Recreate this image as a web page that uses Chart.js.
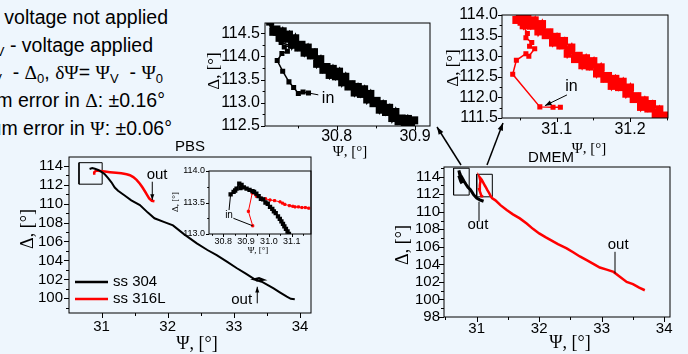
<!DOCTYPE html>
<html>
<head>
<meta charset="utf-8">
<script src="https://cdn.jsdelivr.net/npm/chart.js@4.4.1/dist/chart.umd.min.js"></script>
<style>
  body { margin: 0; width: 688px; height: 354px; overflow: hidden; position: relative;
         background: #eef6fd; font-family: "Liberation Sans", Arial, sans-serif; }
  canvas { position: absolute; left: 0; top: 0; }
  .note { position: absolute; white-space: nowrap; font-size: 19.5px; line-height: 1; color: #000; }
  .g { font-family: "Liberation Serif", serif; }
  .s { font-size: 13px; position: relative; top: 4px; }
</style>
</head>
<body>
<div class="note" style="right:520px;top:8px"><span class="g">Δ</span><span class="s">0</span>, <span class="g">Ψ</span><span class="s">0</span> - voltage not applied</div>
<div class="note" style="right:535px;top:36px"><span class="g">Δ</span><span class="s">V</span>, <span class="g">Ψ</span><span class="s">V</span> - voltage applied</div>
<div class="note" style="right:525px;top:63px"><span class="g">δΔ</span>= <span class="g">Δ</span><span class="s">V</span> &nbsp;- <span class="g">Δ</span><span class="s">0</span>, <span class="g">δΨ</span>= <span class="g">Ψ</span><span class="s">V</span>&nbsp; - <span class="g">Ψ</span><span class="s">0</span></div>
<div class="note" style="right:523px;top:91px">Maximum error in <span class="g">Δ</span>: ±0.16°</div>
<div class="note" style="right:516px;top:119px">Maximum error in <span class="g">Ψ</span>: ±0.06°</div>

<canvas id="pbsMain" width="688" height="354"></canvas>
<canvas id="pbsInset" width="688" height="354"></canvas>
<canvas id="dmemMain" width="688" height="354"></canvas>
<canvas id="dmemZoom304" width="688" height="354"></canvas>
<canvas id="dmemZoom316" width="688" height="354"></canvas>
<canvas id="links" width="688" height="354"></canvas>

<script>
// ---- data: [Psi, Delta] in degrees ----
// PBS, full run
const pbs304 = [[30.82,113.65],[30.86,113.75],[30.90,113.68],[30.95,113.55],[31.00,113.35],[31.05,113.10],
  [31.10,112.70],[31.15,112.25],[31.20,111.70],[31.25,111.35],[31.35,110.85],[31.45,110.35],[31.58,109.85],
  [31.70,109.05],[31.80,108.45],[31.95,108.05],[32.08,107.70],[32.25,106.75],[32.44,105.80],[32.60,105.10],
  [32.74,104.55],[32.90,103.85],[33.04,103.20],[33.18,102.60],[33.28,102.15],[33.35,101.85],[33.45,101.95],
  [33.38,102.15],[33.30,102.00],[33.42,101.75],[33.50,101.45],[33.60,101.05],[33.70,100.60],[33.80,100.17],
  [33.86,99.95],[33.92,99.90]];
const pbs316 = [[30.89,113.05],[30.89,113.30],[30.92,113.50],[30.98,113.44],[31.05,113.38],[31.13,113.32],
  [31.22,113.26],[31.30,113.20],[31.38,113.10],[31.43,113.00],[31.48,112.80],[31.53,112.50],[31.58,112.10],
  [31.62,111.70],[31.66,111.25],[31.69,110.90],[31.72,110.55],[31.76,110.30],[31.80,110.25]];
const pbsBox = [[30.66,112.05],[31.01,112.05],[31.01,114.32],[30.66,114.32],[30.66,112.05]];

// PBS, first minutes (inset)
const pbsStart304 = [[30.832,113.63],[30.845,113.67],[30.852,113.69],[30.858,113.72],[30.870,113.80],[30.880,113.78],
  [30.875,113.73],[30.890,113.74],[30.902,113.72],[30.915,113.70],[30.928,113.68],[30.935,113.67],[30.945,113.64],
  [30.955,113.60],[30.965,113.56],[30.975,113.55],[30.985,113.50],[30.995,113.48],[31.005,113.43],[31.015,113.40],
  [31.022,113.36],[31.030,113.33],[31.040,113.28],[31.048,113.24],[31.055,113.20],[31.062,113.16],[31.068,113.12],
  [31.075,113.08],[31.082,113.04],[31.088,113.00]];
const pbsStart316 = [[30.929,113.13],[30.910,113.36],[30.927,113.65],[30.945,113.60],[30.965,113.57],[30.985,113.56],
  [31.005,113.54],[31.025,113.53],[31.049,113.51],[31.060,113.49],[31.070,113.47],[31.090,113.45],[31.105,113.44],
  [31.115,113.43],[31.130,113.43],[31.145,113.42],[31.160,113.42],[31.175,113.41]];

// DMEM, full run
const dmem304 = [[30.764,113.21],[30.745,113.45],[30.724,113.90],[30.730,114.20],[30.715,114.70],[30.725,114.45],
  [30.74,114.20],[30.76,113.95],[30.78,113.70],[30.80,113.45],[30.83,113.10],[30.86,112.80],[30.90,112.50],
  [30.95,111.95],[31.00,111.55],[31.05,111.35],[31.11,111.20]];
const dmem316 = [[31.105,111.76],[31.077,111.77],[31.040,112.56],[31.050,113.00],[31.060,113.50],[31.045,113.95],
  [31.080,113.64],[31.105,113.31],[31.130,112.99],[31.150,112.75],[31.173,112.43],[31.195,112.19],[31.218,111.86],
  [31.245,111.55],[31.30,111.30],[31.38,110.75],[31.48,110.19],[31.58,109.70],[31.69,109.24],[31.80,108.65],
  [31.90,108.05],[32.00,107.53],[32.10,107.10],[32.20,106.70],[32.30,106.30],[32.44,105.82],[32.55,105.35],
  [32.65,104.90],[32.76,104.48],[32.88,104.00],[32.97,103.64],[33.08,103.40],[33.19,103.14],[33.28,102.65],
  [33.40,102.00],[33.50,101.75],[33.60,101.35],[33.69,101.05]];
const dmemBox304 = [[30.63,111.9],[30.88,111.9],[30.88,114.96],[30.63,114.96],[30.63,111.9]];
const dmemBox316 = [[31.00,111.7],[31.25,111.7],[31.25,114.27],[31.00,114.27],[31.00,111.7]];

// DMEM, first minutes (top insets): path from "in", then the dense band
const dmemStart304 = [[30.764,113.21],[30.757,113.23],[30.751,113.20],[30.745,113.33],[30.739,113.45],[30.731,113.68],
  [30.724,113.91],[30.730,114.06],[30.737,114.11],[30.733,114.20],[30.741,114.23],[30.729,114.30],[30.722,114.50],
  [30.715,114.75]];
const dmemBand304 = [[30.715,114.75],[30.719,114.53],[30.723,114.58],[30.727,114.40],[30.731,114.54],[30.735,114.38],
  [30.739,114.47],[30.743,114.25],[30.747,114.39],[30.751,114.19],[30.755,114.25],[30.759,114.08],[30.763,114.19],
  [30.767,114.02],[30.771,114.09],[30.775,113.84],[30.779,113.94],[30.783,113.71],[30.787,113.77],[30.791,113.60],
  [30.795,113.73],[30.799,113.57],[30.803,113.67],[30.807,113.44],[30.811,113.56],[30.815,113.35],[30.819,113.40],
  [30.823,113.22],[30.827,113.34],[30.831,113.19],[30.835,113.29],[30.839,113.07],[30.843,113.19],[30.847,112.99],
  [30.851,113.04],[30.855,112.85],[30.859,112.97],[30.863,112.80],[30.867,112.89],[30.871,112.67],[30.875,112.80],
  [30.879,112.60],[30.883,112.66],[30.887,112.50],[30.891,112.65],[30.895,112.52],[30.899,112.62]];
const dmemStart316 = [[31.105,111.76],[31.095,111.76],[31.077,111.77],[31.040,112.56],[31.045,112.90],[31.058,113.06],
  [31.062,113.00],[31.070,113.18],[31.063,113.24],[31.066,113.33],[31.058,113.45],[31.060,113.55],[31.055,113.72],
  [31.050,113.80],[31.046,113.92],[31.045,113.88]];
const dmemBand316 = [[31.045,113.88],[31.050,113.97],[31.055,113.75],[31.060,113.92],[31.065,113.74],[31.070,113.87],
  [31.075,113.60],[31.080,113.78],[31.085,113.51],[31.090,113.58],[31.095,113.33],[31.100,113.47],[31.105,113.26],
  [31.110,113.37],[31.115,113.06],[31.120,113.21],[31.125,112.93],[31.130,113.01],[31.135,112.78],[31.140,112.95],
  [31.145,112.75],[31.150,112.88],[31.155,112.58],[31.160,112.73],[31.165,112.45],[31.170,112.52],[31.175,112.28],
  [31.180,112.45],[31.185,112.25],[31.190,112.38],[31.195,112.09],[31.200,112.24],[31.205,111.96],[31.210,112.03],
  [31.215,111.77],[31.220,111.93],[31.225,111.73],[31.230,111.84],[31.235,111.55],[31.240,111.71],[31.245,111.52],
  [31.250,111.56]];

const BLACK = '#000000', RED = '#ff0000';
const SERIF = '"Liberation Serif", serif', SANS = '"Liberation Sans", Arial, sans-serif';
Chart.defaults.font.family = SANS;
Chart.defaults.color = '#000';

const pts = arr => arr.map(p => ({ x: p[0], y: p[1] }));

function series(arr, color, width, radius, label) {
  return { label, data: pts(arr), showLine: true, borderColor: color, backgroundColor: color,
           borderWidth: width, pointRadius: radius || 0, pointStyle: 'rect', tension: 0 };
}

function arrow(ctx, x1, y1, x2, y2, head) {
  ctx.beginPath(); ctx.moveTo(x1, y1); ctx.lineTo(x2, y2); ctx.stroke();
  if (!head) return;
  const a = Math.atan2(y2 - y1, x2 - x1);
  ctx.beginPath();
  ctx.moveTo(x2, y2);
  ctx.lineTo(x2 - head * Math.cos(a - 0.35), y2 - head * Math.sin(a - 0.35));
  ctx.lineTo(x2 - head * Math.cos(a + 0.35), y2 - head * Math.sin(a + 0.35));
  ctx.closePath(); ctx.fill();
}

// frame, origin-style ticks, labels and pointers
const decor = {
  id: 'decor',
  afterDraw(chart, args, o) {
    const ctx = chart.ctx, a = chart.chartArea;
    const sx = chart.scales.x, sy = chart.scales.y;
    ctx.save();
    ctx.strokeStyle = '#000'; ctx.fillStyle = '#000'; ctx.lineWidth = 1;
    ctx.strokeRect(a.left, a.top, a.right - a.left, a.bottom - a.top);

    const marks = (scale, step, len, horiz) => {
      const first = Math.ceil(scale.min / step - 1e-6);
      for (let i = first; i * step <= scale.max + 1e-9; i++) {
        const p = Math.round(scale.getPixelForValue(i * step)) + 0.5;
        ctx.beginPath();
        if (horiz) { ctx.moveTo(p, a.bottom); ctx.lineTo(p, a.bottom + len); }
        else { ctx.moveTo(a.left, p); ctx.lineTo(a.left - len, p); }
        ctx.stroke();
      }
    };
    marks(sx, o.xMinor, o.tick * 0.6, true);
    marks(sx, o.xMajor, o.tick, true);
    marks(sy, o.yMinor, o.tick * 0.6, false);
    marks(sy, o.yMajor, o.tick, false);

    ctx.textAlign = 'center'; ctx.textBaseline = 'middle';
    (o.notes || []).forEach(n => {
      ctx.font = n.font;
      ctx.fillText(n.text, sx.getPixelForValue(n.x), sy.getPixelForValue(n.y));
    });
    (o.pointers || []).forEach(l => arrow(ctx,
      sx.getPixelForValue(l[0]), sy.getPixelForValue(l[1]),
      sx.getPixelForValue(l[2]), sy.getPixelForValue(l[3]), l[4]));
    (o.titles || []).forEach(t => {
      ctx.save();
      ctx.translate(t.x, t.y);
      if (t.rot) ctx.rotate(-Math.PI / 2);
      ctx.font = t.font;
      ctx.fillText(t.text, 0, 0);
      ctx.restore();
    });
    if (o.legend) {
      const L = o.legend;
      chart.data.datasets.filter(d => d.label).forEach((d, i) => {
        const y = L.y + i * L.gap;
        ctx.strokeStyle = d.borderColor; ctx.lineWidth = L.width;
        ctx.beginPath(); ctx.moveTo(L.x, y); ctx.lineTo(L.x + L.len, y); ctx.stroke();
        ctx.font = L.font; ctx.textAlign = 'left';
        ctx.fillText(d.label, L.x + L.len + 5, y);
      });
    }
    ctx.restore();
  }
};

function panel(id, p) {
  const yw = 45, xh = 30;
  const [l, t, r, b] = p.area;
  return new Chart(document.getElementById(id), {
    type: 'scatter',
    data: { datasets: p.sets },
    options: {
      responsive: false, animation: false, devicePixelRatio: 1,
      layout: { padding: { left: l - yw, top: t, right: 688 - r, bottom: 354 - b - xh } },
      plugins: { legend: { display: false }, tooltip: { enabled: false }, decor: p.decor },
      scales: {
        x: {
          type: 'linear', min: p.x[0], max: p.x[1],
          afterFit: s => { s.height = xh; },
          grid: { display: false, drawTicks: false, tickLength: 0 }, border: { display: false },
          ticks: { stepSize: p.decor.xMajor, includeBounds: false, autoSkip: false, maxRotation: 0,
                   padding: p.xPad, font: { size: p.font }, color: '#000',
                   callback: v => v.toFixed(p.xDec) }
        },
        y: {
          type: 'linear', min: p.y[0], max: p.y[1],
          afterFit: s => { s.width = yw; },
          grid: { display: false, drawTicks: false, tickLength: 0 }, border: { display: false },
          ticks: { stepSize: p.decor.yMajor, includeBounds: false, autoSkip: false,
                   padding: p.yPad, font: { size: p.font }, color: '#000',
                   callback: v => v.toFixed(p.yDec) }
        }
      }
    },
    plugins: [decor]
  });
}

const T18 = '18px ' + SERIF, T15 = '15px ' + SANS;

panel('pbsMain', {
  area: [69, 157, 311, 313], x: [30.509, 34.165], y: [98.45, 114.92],
  font: 15, xPad: 5, yPad: 6, xDec: 0, yDec: 0,
  sets: [series(pbs304, BLACK, 2, 0, 'ss 304'), series(pbs316, RED, 2.5, 0, 'ss 316L'),
         series(pbsBox, BLACK, 1, 0)],
  decor: {
    xMajor: 1, xMinor: 0.5, yMajor: 2, yMinor: 1, tick: 5,
    notes: [{ text: 'out', x: 31.84, y: 113.02, font: T15 }, { text: 'out', x: 33.118, y: 99.82, font: T15 }],
    pointers: [[31.767, 112.31, 31.767, 110.38, 6], [33.353, 99.47, 33.353, 101.22, 6]],
    titles: [{ text: 'Δ, [°]', x: 28, y: 229, rot: true, font: T18 },
             { text: 'Ψ, [°]', x: 197, y: 344, font: T18 },
             { text: 'PBS', x: 190, y: 147, font: T15 }],
    legend: { x: 75, y: 282, gap: 17, len: 33, width: 2.5, font: T15 }
  }
});

panel('pbsInset', {
  area: [209, 171, 311, 234], x: [30.737, 31.185], y: [113, 114],
  font: 9, xPad: 2, yPad: 4, xDec: 1, yDec: 1,
  sets: [series(pbsStart304, BLACK, 1.5, 2), series(pbsStart316, RED, 1, 1.5)],
  decor: {
    xMajor: 0.1, xMinor: 0.05, yMajor: 0.5, yMinor: 0.25, tick: 3,
    notes: [{ text: 'in', x: 30.825, y: 113.30, font: '10px ' + SANS }],
    pointers: [[30.825, 113.38, 30.832, 113.63, 0], [30.844, 113.25, 30.929, 113.13, 0]],
    titles: [{ text: 'Δ, [°]', x: 176, y: 202, rot: true, font: '9px ' + SERIF },
             { text: 'Ψ, [°]', x: 258, y: 251, font: '9px ' + SERIF }]
  }
});

panel('dmemMain', {
  area: [444, 167, 670, 317], x: [30.477, 34.093], y: [98, 115.1],
  font: 15, xPad: 3, yPad: 4, xDec: 0, yDec: 0,
  sets: [series(dmem304, BLACK, 3, 0), series(dmem316, RED, 2.5, 0),
         series(dmemBox304, BLACK, 1, 0), series(dmemBox316, BLACK, 1, 0)],
  decor: {
    xMajor: 1, xMinor: 0.5, yMajor: 2, yMinor: 1, tick: 5,
    notes: [{ text: 'out', x: 31.02, y: 108.48, font: T15 }, { text: 'out', x: 33.263, y: 106.18, font: T15 }],
    pointers: [[31.037, 108.86, 31.037, 111.14, 0], [33.213, 105.43, 33.213, 102.96, 0]],
    titles: [{ text: 'Δ, [°]', x: 403, y: 245, rot: true, font: T18 },
             { text: 'Ψ, [°]', x: 570, y: 343, font: T18 },
             { text: 'DMEM', x: 551, y: 158, font: T15 }]
  }
});

panel('dmemZoom304', {
  area: [265, 23, 430, 126], x: [30.7084, 30.9192], y: [112.498, 114.72],
  font: 16, xPad: 1, yPad: 5, xDec: 1, yDec: 1,
  sets: [series(dmemStart304, BLACK, 1.5, 2.5), series(dmemBand304, BLACK, 4.5, 2.5)],
  decor: {
    xMajor: 0.1, xMinor: 0.05, yMajor: 0.5, yMinor: 0.25, tick: 4,
    notes: [{ text: 'in', x: 30.789, y: 113.08, font: '16px ' + SANS }],
    pointers: [[30.7765, 113.17, 30.764, 113.21, 0]],
    titles: [{ text: 'Δ, [°]', x: 215, y: 71, rot: true, font: '17px ' + SERIF },
             { text: 'Ψ, [°]', x: 350, y: 152, font: '15px ' + SERIF }]
  }
});

panel('dmemZoom316', {
  area: [502, 15, 668, 118], x: [31.0254, 31.2518], y: [111.5, 114],
  font: 16, xPad: 2, yPad: 4, xDec: 1, yDec: 1,
  sets: [series(dmemStart316, RED, 1.5, 2.5), series(dmemBand316, RED, 4.5, 2.5)],
  decor: {
    xMajor: 0.1, xMinor: 0.05, yMajor: 0.5, yMinor: 0.25, tick: 4,
    notes: [{ text: 'in', x: 31.12, y: 112.26, font: '16px ' + SANS }],
    pointers: [[31.114, 112.06, 31.084, 111.80, 7]],
    titles: [{ text: 'Δ, [°]', x: 454, y: 68, rot: true, font: '17px ' + SERIF },
             { text: 'Ψ, [°]', x: 589, y: 149, font: '15px ' + SERIF }]
  }
});

// arrows linking the DMEM boxes to the two top insets
const lk = document.getElementById('links').getContext('2d');
lk.strokeStyle = '#000'; lk.fillStyle = '#000'; lk.lineWidth = 1.5;
arrow(lk, 461, 165, 437, 127, 8);
arrow(lk, 487, 165, 503, 123, 8);
</script>
</body>
</html>
